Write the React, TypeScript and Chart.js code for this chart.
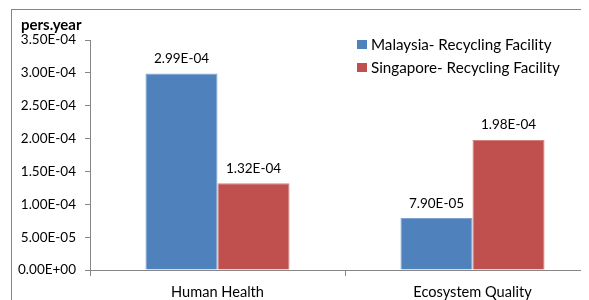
import React, { useEffect, useRef } from "react";
import { Chart, registerables } from "chart.js";

Chart.register(...registerables);

const CATEGORIES = ["Human Health", "Ecosystem Quality"];
const SERIES_NAMES = ["Malaysia- Recycling Facility", "Singapore- Recycling Facility"];
const MALAYSIA = [2.99e-4, 7.9e-5];
const SINGAPORE = [1.32e-4, 1.98e-4];
const Y_TITLE = "pers.year";
const Y_MIN = 0;
const Y_MAX = 3.5e-4;
const Y_STEP = 5e-5;

const COLORS = ["#4F81BD", "#C0504D"];
const EDGES = ["#7FA3D1", "#D4807D"];
const FONT = "Lato, 'Open Sans', sans-serif";
const AXIS = "#868686";

function fmt(v: number): string {
  const [m, e] = v.toExponential(2).split("e");
  const sign = e[0];
  const digits = e.slice(1).padStart(2, "0");
  return `${m}E${sign}${digits}`;
}

const overlay = {
  id: "overlay",
  afterDraw(chart: any) {
    const ctx = chart.ctx as CanvasRenderingContext2D;
    ctx.save();
    ctx.strokeStyle = AXIS;
    ctx.lineWidth = 1;
    ctx.strokeRect(3.5, 1.5, 612, 300);

    ctx.fillStyle = "#000";
    ctx.font = `bold 15px ${FONT}`;
    ctx.textAlign = "left";
    ctx.textBaseline = "middle";
    ctx.fillText(Y_TITLE, 13, 17);

    ctx.font = `15.2px ${FONT}`;
    SERIES_NAMES.forEach((name, i) => {
      ctx.fillStyle = COLORS[i];
      ctx.fillRect(349, 32 + i * 23, 10, 9);
      ctx.fillStyle = "#000";
      ctx.fillText(name, 363, 37 + i * 23);
    });

    ctx.font = `13.5px ${FONT}`;
    ctx.textAlign = "center";
    ctx.textBaseline = "bottom";
    chart.data.datasets.forEach((ds: any, i: number) => {
      const meta = chart.getDatasetMeta(i);
      meta.data.forEach((bar: any, j: number) => {
        ctx.fillText(fmt(ds.data[j]), bar.x, bar.y - 8);
      });
    });
    ctx.restore();
  },
};

export default function App() {
  const ref = useRef<HTMLCanvasElement>(null);
  useEffect(() => {
    if (!ref.current) return;
    const chart = new Chart(ref.current, {
      type: "bar",
      data: {
        labels: CATEGORIES,
        datasets: [
          {
            label: SERIES_NAMES[0],
            data: MALAYSIA,
            backgroundColor: COLORS[0],
            borderColor: EDGES[0],
            borderWidth: 1,
          },
          {
            label: SERIES_NAMES[1],
            data: SINGAPORE,
            backgroundColor: COLORS[1],
            borderColor: EDGES[1],
            borderWidth: 1,
          },
        ],
      },
      options: {
        responsive: false,
        animation: false,
        devicePixelRatio: 1,
        layout: { padding: { top: 32, right: 28, left: 0, bottom: 0 } },
        datasets: { bar: { categoryPercentage: 0.565, barPercentage: 1.0 } },
        plugins: {
          legend: { display: false },
          tooltip: { enabled: false },
        },
        scales: {
          x: {
            grid: {
              display: true,
              drawOnChartArea: false,
              drawTicks: true,
              tickLength: 6,
              color: AXIS,
              offset: true,
            },
            border: { display: true, color: AXIS },
            ticks: { color: "#000", font: { family: FONT, size: 14.6 }, padding: 8 },
            afterFit: (s: any) => {
              s.height = 48;
            },
          },
          y: {
            min: Y_MIN,
            max: Y_MAX,
            grid: {
              display: true,
              drawOnChartArea: false,
              drawTicks: true,
              tickLength: 5,
              color: AXIS,
            },
            border: { display: true, color: AXIS },
            ticks: {
              stepSize: Y_STEP,
              autoSkip: false,
              color: "#000",
              font: { family: FONT, size: 13.5 },
              padding: 9,
              callback: (v: any) => fmt(Number(v)),
            },
            afterFit: (s: any) => {
              s.width = 82;
            },
          },
        },
      },
      plugins: [overlay],
    });
    return () => chart.destroy();
  }, []);
  return (
    <div style={{ width: 581, height: 292, overflow: "hidden" }}>
      <canvas ref={ref} width={620} height={310} style={{ display: "block" }} />
    </div>
  );
}
